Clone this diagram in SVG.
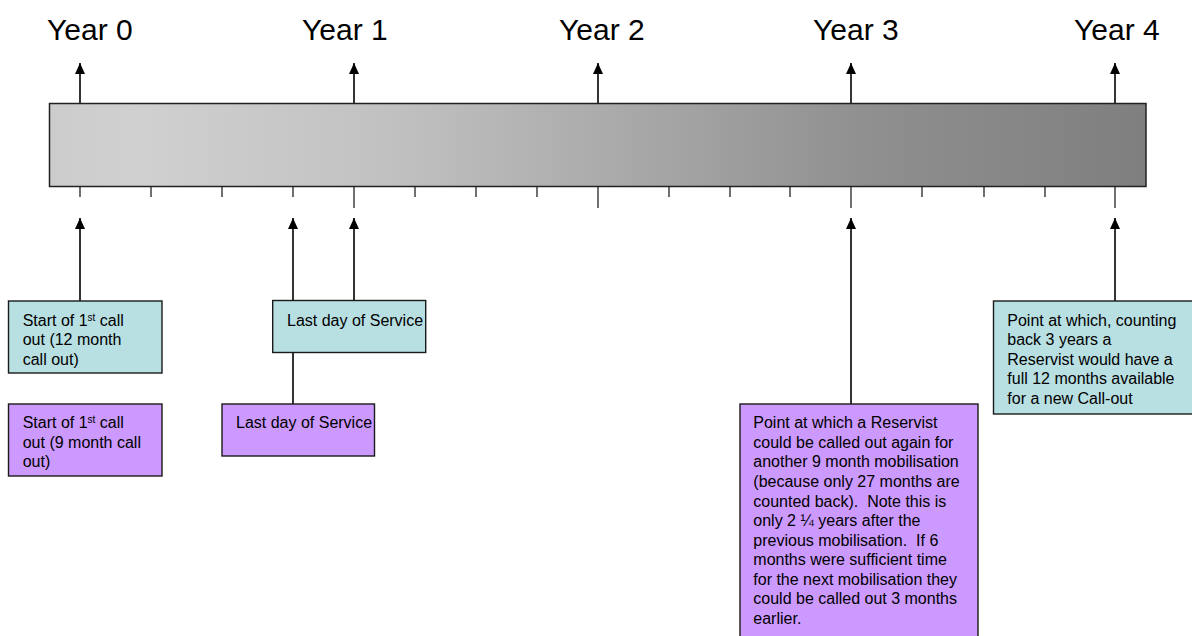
<svg xmlns="http://www.w3.org/2000/svg" width="1192" height="636" viewBox="0 0 1192 636">
<style>
.yr{font-family:"Liberation Sans",Arial,sans-serif;font-size:30px;fill:#000}
.t{font-family:"Liberation Sans",Arial,sans-serif;font-size:16px;fill:#000;white-space:pre}
.cy{fill:#B8DFE2;stroke:#1a1a1a;stroke-width:1.4}
.pu{fill:#CC99FF;stroke:#1a1a1a;stroke-width:1.4}
.ln{stroke:#000;stroke-width:1.6;fill:none}
.tk{stroke:#222;stroke-width:1.3}
.sup{font-size:10px}
</style>
<defs>
<linearGradient id="g" x1="49" y1="0" x2="1146" y2="0" gradientUnits="userSpaceOnUse">
<stop offset="0" stop-color="#CCCCCC"/>
<stop offset="0.08" stop-color="#D0D0D0"/>
<stop offset="0.3" stop-color="#C2C2C2"/>
<stop offset="0.5" stop-color="#ACACAC"/>
<stop offset="0.75" stop-color="#8F8F8F"/>
<stop offset="1" stop-color="#7F7F7F"/>
</linearGradient>
<marker id="ah" markerUnits="userSpaceOnUse" markerWidth="11" markerHeight="10" refX="11" refY="5" orient="auto">
<path d="M0,0 L11,5 L0,10 z" fill="#000"/>
</marker>
</defs>

<g id="year-labels">
<text class="yr" x="47" y="40">Year 0</text>
<text class="yr" x="302" y="40">Year 1</text>
<text class="yr" x="559" y="40">Year 2</text>
<text class="yr" x="813" y="40">Year 3</text>
<text class="yr" x="1074" y="40">Year 4</text>
</g>

<g id="connectors">
<line class="ln" x1="80" y1="104" x2="80" y2="63" marker-end="url(#ah)"/>
<line class="ln" x1="354" y1="104" x2="354" y2="63" marker-end="url(#ah)"/>
<line class="ln" x1="598" y1="104" x2="598" y2="63" marker-end="url(#ah)"/>
<line class="ln" x1="851" y1="104" x2="851" y2="63" marker-end="url(#ah)"/>
<line class="ln" x1="1115" y1="104" x2="1115" y2="63" marker-end="url(#ah)"/>
<line class="ln" x1="80" y1="301" x2="80" y2="218" marker-end="url(#ah)"/>
<line class="ln" x1="293" y1="404" x2="293" y2="218" marker-end="url(#ah)"/>
<line class="ln" x1="354" y1="300" x2="354" y2="218" marker-end="url(#ah)"/>
<line class="ln" x1="851" y1="404" x2="851" y2="218" marker-end="url(#ah)"/>
<line class="ln" x1="1115" y1="301" x2="1115" y2="218" marker-end="url(#ah)"/>
</g>

<g id="timeline">
<rect x="49.5" y="103.5" width="1096.5" height="83" fill="url(#g)" stroke="#222" stroke-width="1.5"/>
<g id="ticks">
<line class="tk" x1="80" y1="187" x2="80" y2="197"/>
<line class="tk" x1="151" y1="187" x2="151" y2="197"/>
<line class="tk" x1="222" y1="187" x2="222" y2="197"/>
<line class="tk" x1="293" y1="187" x2="293" y2="197"/>
<line class="tk" x1="354" y1="187" x2="354" y2="208"/>
<line class="tk" x1="415" y1="187" x2="415" y2="197"/>
<line class="tk" x1="476" y1="187" x2="476" y2="197"/>
<line class="tk" x1="537" y1="187" x2="537" y2="197"/>
<line class="tk" x1="598" y1="187" x2="598" y2="208"/>
<line class="tk" x1="669" y1="187" x2="669" y2="197"/>
<line class="tk" x1="730" y1="187" x2="730" y2="197"/>
<line class="tk" x1="790" y1="187" x2="790" y2="197"/>
<line class="tk" x1="851" y1="187" x2="851" y2="208"/>
<line class="tk" x1="922" y1="187" x2="922" y2="197"/>
<line class="tk" x1="984" y1="187" x2="984" y2="197"/>
<line class="tk" x1="1045" y1="187" x2="1045" y2="197"/>
<line class="tk" x1="1115" y1="187" x2="1115" y2="208"/>
</g>
</g>

<g id="start-12-month">
<rect class="cy" x="8.5" y="301" width="153.5" height="72"/>
<text class="t" x="22.7" y="325.7">Start of 1<tspan class="sup" baseline-shift="super">st</tspan> call</text>
<text class="t" x="22.7" y="345.2">out (12 month</text>
<text class="t" x="22.7" y="364.7">call out)</text>
</g>

<g id="start-9-month">
<rect class="pu" x="8.5" y="404" width="153.5" height="72"/>
<text class="t" x="22.7" y="428.3">Start of 1<tspan class="sup" baseline-shift="super">st</tspan> call</text>
<text class="t" x="22.7" y="447.8">out (9 month call</text>
<text class="t" x="22.7" y="467.3">out)</text>
</g>

<g id="last-day-purple">
<rect class="pu" x="222" y="404" width="152.5" height="52"/>
<text class="t" x="236" y="428">Last day of Service</text>
</g>

<g id="last-day-cyan">
<rect class="cy" x="272.7" y="300.5" width="153" height="52"/>
<text class="t" x="287" y="325.7">Last day of Service</text>
</g>

<g id="reservist-9-month">
<rect class="pu" x="740" y="404" width="238" height="240"/>
<text class="t" x="753.3" y="428.3">Point at which a Reservist</text>
<text class="t" x="753.3" y="447.9">could be called out again for</text>
<text class="t" x="753.3" y="467.4">another 9 month mobilisation</text>
<text class="t" x="753.3" y="487.0">(because only 27 months are</text>
<text class="t" x="753.3" y="506.6">counted back).  Note this is</text>
<text class="t" x="753.3" y="526.2">only 2 ¼ years after the</text>
<text class="t" x="753.3" y="545.7">previous mobilisation.  If 6</text>
<text class="t" x="753.3" y="565.3">months were sufficient time</text>
<text class="t" x="753.3" y="584.9">for the next mobilisation they</text>
<text class="t" x="753.3" y="604.4">could be called out 3 months</text>
<text class="t" x="753.3" y="624">earlier.</text>
</g>

<g id="reservist-12-month">
<rect class="cy" x="993.5" y="301" width="210" height="113"/>
<text class="t" x="1007.3" y="325.7">Point at which, counting</text>
<text class="t" x="1007.3" y="345.2">back 3 years a</text>
<text class="t" x="1007.3" y="364.7">Reservist would have a</text>
<text class="t" x="1007.3" y="384.2">full 12 months available</text>
<text class="t" x="1007.3" y="403.7">for a new Call-out</text>
</g>
</svg>
